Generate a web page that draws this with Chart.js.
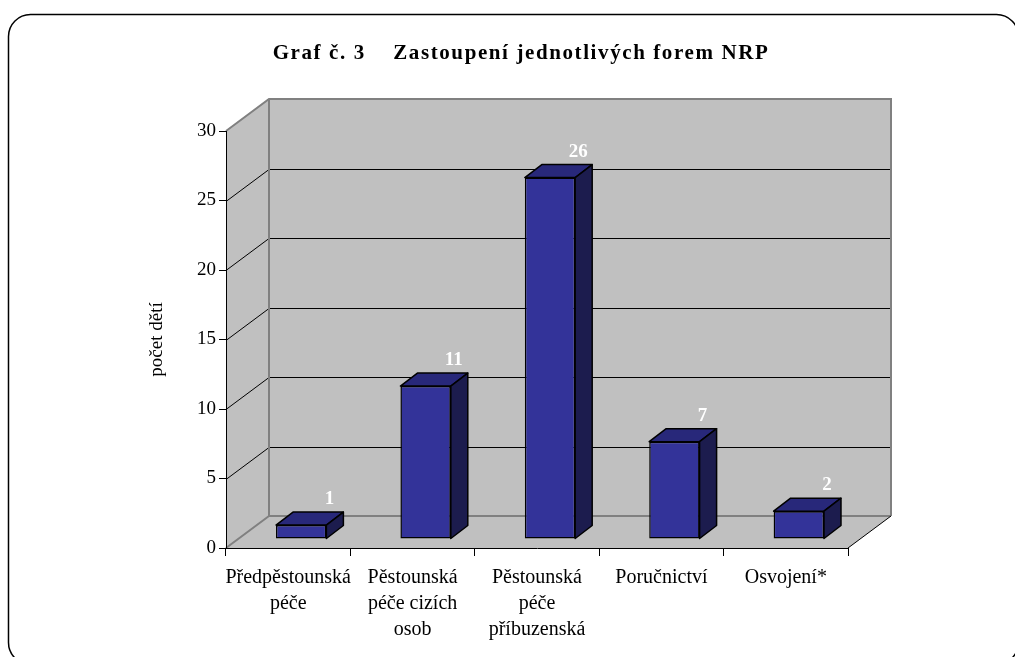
<!DOCTYPE html>
<html lang="cs">
<head>
<meta charset="utf-8">
<title>Graf č. 3</title>
<script src="https://cdn.jsdelivr.net/npm/chart.js@4.4.1/dist/chart.umd.min.js"></script>
<style>
  html, body { margin: 0; padding: 0; background: #fff; }
  #wrap { width: 1015px; height: 657px; position: relative; }
</style>
</head>
<body>
<div id="wrap"><canvas id="nrpChart"></canvas></div>
<script>
// data
const categories = [
  ['Předpěstounská', 'péče'],
  ['Pěstounská', 'péče cizích', 'osob'],
  ['Pěstounská', 'péče', 'příbuzenská'],
  'Poručnictví',
  'Osvojení*',
];
const counts = [1, 11, 26, 7, 2];
const yMin = 0, yMax = 30, yStep = 5;

const serif = '"Liberation Serif", "Times New Roman", serif';
const wallFill = '#c0c0c0';
const wallEdge = '#808080';
const barFront = '#333399';
const barTop   = '#28287a';
const barSide  = '#1c1c4e';

// 3D offsets: wall depth, bar front position, bar depth
const wallD = { x: 43, y: -32 };
const barShift = { x: 13, y: -9 };
const barD = { x: 17, y: -13 };

const frame3d = {
  id: 'frame3d',
  beforeDraw(chart) {
    const ctx = chart.ctx;
    const { left: L, right: R } = chart.chartArea;
    const ys = chart.scales.y;
    const yT = ys.getPixelForValue(yMax), yB = ys.getPixelForValue(yMin);

    ctx.save();
    // outer rounded frame
    ctx.strokeStyle = '#000';
    ctx.lineWidth = 1.5;
    ctx.beginPath();
    ctx.roundRect(8.5, 14.5, 1010, 650, 22);
    ctx.stroke();

    // title
    ctx.fillStyle = '#000';
    ctx.font = 'bold 21px ' + serif;
    ctx.letterSpacing = '1.6px';
    ctx.textAlign = 'center';
    ctx.textBaseline = 'alphabetic';
    ctx.fillText('Graf č. 3    Zastoupení jednotlivých forem NRP', 521, 59);
    ctx.letterSpacing = '0px';

    ctx.fillStyle = wallFill;
    // side wall
    ctx.beginPath();
    ctx.moveTo(L, yT); ctx.lineTo(L + wallD.x, yT + wallD.y);
    ctx.lineTo(L + wallD.x, yB + wallD.y); ctx.lineTo(L, yB);
    ctx.closePath(); ctx.fill();
    // back wall
    ctx.fillRect(L + wallD.x, yT + wallD.y, R - L, yB - yT);
    // floor
    ctx.beginPath();
    ctx.moveTo(L, yB); ctx.lineTo(L + wallD.x, yB + wallD.y);
    ctx.lineTo(R + wallD.x, yB + wallD.y); ctx.lineTo(R, yB);
    ctx.closePath(); ctx.fill();

    // grid lines on side + back wall
    ctx.strokeStyle = '#000';
    ctx.lineWidth = 1;
    for (let v = yMin + yStep; v < yMax; v += yStep) {
      const y = Math.round(ys.getPixelForValue(v)) + 0.5;
      ctx.beginPath();
      ctx.moveTo(L, y);
      ctx.lineTo(L + wallD.x, y + wallD.y);
      ctx.lineTo(R + wallD.x, y + wallD.y);
      ctx.stroke();
    }

    // wall edges
    ctx.strokeStyle = wallEdge;
    ctx.lineWidth = 2;
    ctx.beginPath();
    ctx.moveTo(L, yT);
    ctx.lineTo(L + wallD.x, yT + wallD.y);
    ctx.lineTo(R + wallD.x, yT + wallD.y);
    ctx.lineTo(R + wallD.x, yB + wallD.y);
    ctx.moveTo(L + wallD.x, yT + wallD.y);
    ctx.lineTo(L + wallD.x, yB + wallD.y);
    ctx.lineTo(R + wallD.x, yB + wallD.y);
    ctx.moveTo(L, yB);
    ctx.lineTo(L + wallD.x, yB + wallD.y);
    ctx.stroke();
    ctx.strokeStyle = '#000';
    ctx.lineWidth = 1;
    ctx.beginPath();
    ctx.moveTo(R, yB);
    ctx.lineTo(R + wallD.x, yB + wallD.y);
    ctx.stroke();
    ctx.restore();
  },
  beforeDatasetsDraw(chart) {
    chart.ctx.save();
    chart.ctx.translate(barShift.x, barShift.y);
  },
  afterDatasetsDraw(chart) {
    const ctx = chart.ctx;
    ctx.restore();
    ctx.save();
    ctx.strokeStyle = '#000';
    ctx.lineWidth = 1.5;
    ctx.lineJoin = 'round';
    chart.getDatasetMeta(0).data.forEach((bar, i) => {
      const { x, y, base, width } = bar.getProps(['x', 'y', 'base', 'width'], true);
      const x0 = x - width / 2 + barShift.x, x1 = x + width / 2 + barShift.x;
      const yt = y + barShift.y, yb = base + barShift.y;
      // top face
      ctx.fillStyle = barTop;
      ctx.beginPath();
      ctx.moveTo(x0, yt); ctx.lineTo(x0 + barD.x, yt + barD.y);
      ctx.lineTo(x1 + barD.x, yt + barD.y); ctx.lineTo(x1, yt);
      ctx.closePath(); ctx.fill(); ctx.stroke();
      // side face
      ctx.fillStyle = barSide;
      ctx.beginPath();
      ctx.moveTo(x1, yt); ctx.lineTo(x1 + barD.x, yt + barD.y);
      ctx.lineTo(x1 + barD.x, yb + barD.y); ctx.lineTo(x1, yb);
      ctx.closePath(); ctx.fill(); ctx.stroke();
      // value label
      ctx.fillStyle = '#fff';
      ctx.font = 'bold 19px ' + serif;
      ctx.textAlign = 'center';
      ctx.textBaseline = 'alphabetic';
      ctx.fillText(String(counts[i]), x1 + 3, yt - 21);
    });
    ctx.restore();
  },
};

new Chart(document.getElementById('nrpChart'), {
  type: 'bar',
  data: {
    labels: categories,
    datasets: [{
      data: counts,
      backgroundColor: barFront,
      borderColor: '#000',
      borderWidth: 1.5,
      borderSkipped: false,
      categoryPercentage: 1,
      barPercentage: 0.405,
    }],
  },
  options: {
    responsive: true,
    maintainAspectRatio: false,
    animation: false,
    layout: { padding: { left: 146, right: 167, top: 131, bottom: 9 } },
    plugins: {
      legend: { display: false },
      tooltip: { enabled: false },
    },
    scales: {
      x: {
        grid: { offset: true, drawOnChartArea: false, tickLength: 8, color: '#000' },
        border: { color: '#000', width: 1 },
        ticks: {
          color: '#000',
          font: { family: serif, size: 20, lineHeight: 1.3 },
          maxRotation: 0,
          autoSkip: false,
          padding: 9,
        },
        afterFit: s => { s.height = 100; },
      },
      y: {
        min: yMin,
        max: yMax,
        grid: { drawOnChartArea: false, tickLength: 7, color: '#000' },
        border: { color: '#000', width: 1 },
        ticks: {
          stepSize: yStep,
          color: '#000',
          font: { family: serif, size: 19 },
          padding: 3,
        },
        title: {
          display: true,
          text: 'počet dětí',
          color: '#000',
          font: { family: serif, size: 19 },
          padding: { top: 0, bottom: 0 },
        },
        afterFit: s => { s.width = 80; },
      },
    },
  },
  plugins: [frame3d],
});
</script>
</body>
</html>
